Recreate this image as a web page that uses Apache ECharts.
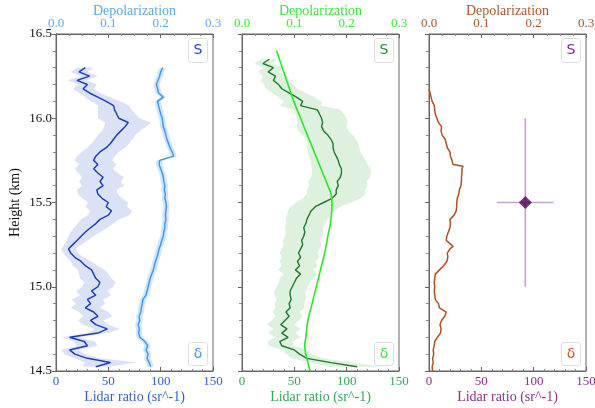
<!DOCTYPE html>
<html><head><meta charset="utf-8">
<script src="https://cdn.jsdelivr.net/npm/echarts@6/dist/echarts.min.js"></script>
<style>html,body{margin:0;padding:0;background:#fff}#c{width:595px;height:408px}</style>
</head><body><div id="c"></div>
<script>
// ---------- DATA ----------
const xTicksLR = [0, 50, 100, 150];
const xTicksDep = [0.0, 0.1, 0.2, 0.3];
const yTicks = [14.5, 15.0, 15.5, 16.0, 16.5];

// Panel 1 (heights in km)
const heights1 = [14.525,14.55,14.575,14.6,14.625,14.65,14.675,14.7,14.725,14.75,14.775,14.8,14.825,14.85,14.875,14.9,14.925,14.95,14.975,15.0,15.025,15.05,15.075,15.1,15.125,15.15,15.175,15.2,15.225,15.25,15.275,15.3,15.325,15.35,15.375,15.4,15.425,15.45,15.475,15.5,15.525,15.55,15.575,15.6,15.625,15.65,15.675,15.7,15.725,15.75,15.775,15.8,15.825,15.85,15.875,15.9,15.925,15.95,15.975,16.0,16.025,16.05,16.075,16.1,16.125,16.15,16.175,16.2,16.225,16.25,16.275,16.3];
const lidarRatio1 = [38,52,30,18,13,30,27,13,40,49, 38,33,40,36,28,33,30,38,34,40, 42,38,36,34,28,24,18,14,12,16, 20,24,28,33,38,42,50,53,48,50, 44,40,39,45,42,45,40,36,40,36, 38,42,48,52,55,58,62,66,69,60, 58,56,55,48,40,32,26,30,20,32, 22,28];
const lidarRatio1Err = [12,25,12,10,8,10,10,8,10,12, 12,12,14,14,14,14,15,15,15,15, 15,15,14,13,12,10,8,7,7,8, 10,12,14,16,17,18,20,20,20,19, 19,19,19,20,20,20,19,18,18,18, 18,18,18,18,18,18,18,20,22,20, 18,16,15,14,12,10,10,9,9,8, 8,8];
const depol1 = [0.181,0.178,0.174,0.176,0.172,0.175,0.170,0.160,0.158,0.159, 0.157,0.160,0.159,0.162,0.163,0.165,0.166,0.172,0.174,0.176, 0.178,0.180,0.183,0.186,0.188,0.190,0.193,0.195,0.197,0.200, 0.202,0.205,0.206,0.208,0.208,0.210,0.209,0.210,0.211,0.210, 0.208,0.209,0.207,0.208,0.206,0.205,0.203,0.200,0.197,0.198, 0.225,0.222,0.218,0.215,0.212,0.210,0.208,0.205,0.204,0.203, 0.200,0.198,0.196,0.194,0.205,0.196,0.194,0.192,0.195,0.198, 0.200,0.204];
const depol1Err = 0.006;

// Panel 2
const heights2 = [14.525,14.55,14.575,14.6,14.625,14.65,14.675,14.7,14.725,14.75,14.775,14.8,14.825,14.85,14.875,14.9,14.925,14.95,14.975,15.0,15.025,15.05,15.075,15.1,15.125,15.15,15.175,15.2,15.225,15.25,15.275,15.3,15.325,15.35,15.375,15.4,15.425,15.45,15.475,15.5,15.525,15.55,15.575,15.6,15.625,15.65,15.675,15.7,15.725,15.75,15.775,15.8,15.825,15.85,15.875,15.9,15.925,15.95,15.975,16.0,16.025,16.05,16.075,16.1,16.125,16.15,16.175,16.2,16.225,16.25,16.275,16.3,16.325,16.35];
const lidarRatio2 = [110,85,62,55,50,38,36,44,38,43, 37,41,45,42,46,45,47,46,46,48, 50,52,56,51,55,53,56,54,56,58, 57,59,60,59,61,62,64,66,70,78, 86,90,90,92,91,94,95,95,93,92, 90,88,87,87,85,82,78,76,77,76, 74,72,56,58,52,45,38,35,30,32, 25,30,20,26];
const lidarRatio2Err = [25,20,15,12,12,12,12,12,13,13, 13,13,13,13,14,14,14,15,15,15, 15,16,16,17,17,17,18,18,18,18, 18,18,18,18,19,20,21,22,24,26, 28,28,28,28,28,28,28,28,27,26, 26,25,25,24,24,24,24,24,24,24, 23,22,20,18,17,16,15,14,12,12, 10,10,8,8];
const fitHeights2 = [14.5,14.55,14.6,14.65,14.7,14.8,14.9,15.0,15.1,15.2,15.3,15.4,15.5,15.55,15.6,15.7,15.8,15.9,16.0,16.1,16.2,16.3,16.4];
const fitLidarRatio2 = [65,63,61,60,61,63,67,71,75,79,82,85,86,85,82,75.5,69,62.5,56,49.5,44,38.5,33];

// Panel 3
const heights3 = [14.5,14.525,14.55,14.575,14.6,14.625,14.65,14.675,14.7,14.725,14.75,14.775,14.8,14.825,14.85,14.875,14.9,14.925,14.95,14.975,15.0,15.025,15.05,15.075,15.1,15.125,15.15,15.175,15.2,15.225,15.24,15.25,15.275,15.3,15.325,15.35,15.375,15.4,15.425,15.45,15.475,15.5,15.525,15.55,15.575,15.6,15.625,15.65,15.675,15.7,15.715,15.725,15.75,15.775,15.8,15.825,15.85,15.875,15.9,15.925,15.95,15.975,16.0,16.025,16.05,16.075,16.1,16.125,16.15,16.175];
const depol3 = [0.007,0.006,0.008,0.007,0.009,0.008,0.010,0.011,0.016,0.022, 0.023,0.021,0.024,0.030,0.033,0.020,0.018,0.012,0.011,0.010, 0.011,0.010,0.011,0.012,0.020,0.028,0.034,0.036,0.035,0.040, 0.046, 0.044,0.033,0.034,0.037,0.040,0.041,0.040,0.048,0.052,0.053, 0.053,0.054,0.057,0.058,0.061,0.062,0.062,0.063,0.063, 0.065, 0.046,0.044,0.041,0.040,0.035,0.033,0.031,0.025,0.023,0.024, 0.018,0.015,0.012,0.011,0.010,0.006,0.004,0.002,0.000];
const meanLidarRatio3 = [92];
const meanLidarRatio3Err = [27];
const meanHeight3 = [15.5];
const meanHeight3Err = [0.5];

// ---------- STYLE ----------
const SERIF = 'Liberation Serif';
const panels = [
  {left:56, topColor:'#55aaff', botColor:'#2f5fe0', sColor:'#2244cc', dColor:'#4499ff'},
  {left:242, topColor:'#33ee33', botColor:'#33aa55', sColor:'#2a8a3a', dColor:'#33ee33'},
  {left:429, topColor:'#b0562c', botColor:'#8e2f8e', sColor:'#7a2a8a', dColor:'#b8602c'}
];
const W = 157, TOP = 34, H = 337;
const axisLineCol = '#666';

const grid = [], xAxis = [], yAxis = [], graphic = [];
panels.forEach((p, i) => {
  grid.push({left:p.left, top:TOP, width:W, height:H, show:true, borderColor:axisLineCol, borderWidth:1,
    backgroundColor:'transparent', containLabel:false, outerBoundsMode:'none'});
  xAxis.push({gridIndex:i, type:'value', position:'bottom', min:xTicksLR[0], max:xTicksLR[xTicksLR.length-1], interval:50,
    axisLine:{show:true, onZero:false, lineStyle:{color:axisLineCol}},
    axisTick:{show:true, inside:true, length:4, lineStyle:{color:axisLineCol}},
    minorTick:{show:true, splitNumber:5, length:2, lineStyle:{color:'#888'}},
    splitLine:{show:false},
    axisLabel:{color:p.botColor, fontFamily:SERIF, fontSize:13, margin:4},
    name:'Lidar ratio (sr^-1)', nameLocation:'middle', nameGap:19, nameMoveOverlap:false,
    nameTextStyle:{color:p.botColor, fontFamily:SERIF, fontSize:14}});
  xAxis.push({gridIndex:i, type:'value', position:'top', min:xTicksDep[0], max:xTicksDep[xTicksDep.length-1], interval:0.1,
    axisLine:{show:true, onZero:false, lineStyle:{color:axisLineCol}},
    axisTick:{show:true, inside:true, length:4, lineStyle:{color:axisLineCol}},
    minorTick:{show:true, splitNumber:4, length:2, lineStyle:{color:'#888'}},
    splitLine:{show:false},
    axisLabel:{color:p.topColor, fontFamily:SERIF, fontSize:13, margin:4, formatter:v=>v.toFixed(1)},
    name:'Depolarization', nameLocation:'middle', nameGap:16, nameMoveOverlap:false,
    nameTextStyle:{color:p.topColor, fontFamily:SERIF, fontSize:14}});
  yAxis.push({gridIndex:i, type:'value', min:yTicks[0], max:yTicks[yTicks.length-1], interval:0.5,
    axisLine:{show:true, onZero:false, lineStyle:{color:axisLineCol}},
    axisTick:{show:true, inside:false, length:4, lineStyle:{color:axisLineCol}},
    minorTick:{show:true, splitNumber:5, length:3, lineStyle:{color:'#888'}},
    splitLine:{show:false},
    axisLabel:{show:i===0, color:'#111', fontFamily:SERIF, fontSize:13, margin:4, formatter:v=>v.toFixed(1)},
    name: i===0 ? 'Height (km)' : '', nameLocation:'middle', nameGap:34, nameMoveOverlap:false,
    nameTextStyle:{color:'#111', fontFamily:SERIF, fontSize:14}});
  const bx = p.left + W - 25;
  graphic.push({type:'group', left:bx, top:38, children:[
    {type:'rect', shape:{x:0,y:0,width:19,height:24,r:3}, style:{fill:'#fff', stroke:'#dddddd', lineWidth:1}},
    {type:'text', style:{x:9.5, y:12, text:'S', fill:p.sColor, font:'14px "DejaVu Sans"', textAlign:'center', textVerticalAlign:'middle'}}
  ]});
  graphic.push({type:'group', left:bx, top:342, children:[
    {type:'rect', shape:{x:0,y:0,width:19,height:23,r:3}, style:{fill:'#fff', stroke:'#dddddd', lineWidth:1}},
    {type:'text', style:{x:9.5, y:11.5, text:'δ', fill:p.dColor, font:'14px "DejaVu Sans"', textAlign:'center', textVerticalAlign:'middle'}}
  ]});
});

function pairs(xs, hs){ return hs.map((h,i)=>[xs[i], h]); }
function band(xi, yi, xs, hs, err, color){
  return {type:'custom', xAxisIndex:xi, yAxisIndex:yi, silent:true, z:1,
    data:[[xs[0], hs[0]]],
    renderItem:(params, api)=>{
      const pts=[];
      for(let i=0;i<hs.length;i++){ const e = Array.isArray(err)?err[i]:err; pts.push(api.coord([xs[i]-e, hs[i]])); }
      for(let i=hs.length-1;i>=0;i--){ const e = Array.isArray(err)?err[i]:err; pts.push(api.coord([xs[i]+e, hs[i]])); }
      return {type:'polygon', shape:{points:pts}, style:{fill:color}};
    }};
}
function line(xi, yi, data, color, width, smooth){
  return {type:'line', xAxisIndex:xi, yAxisIndex:yi, data:data, showSymbol:false, symbol:'none', smooth:!!smooth,
    lineStyle:{color:color, width:width}, z:3, animation:false};
}

const series = [
  band(0,0, lidarRatio1, heights1, lidarRatio1Err, 'rgba(196,206,240,0.6)'),
  band(1,0, depol1, heights1, depol1Err, 'rgba(170,210,255,0.55)'),
  line(0,0, pairs(lidarRatio1, heights1), '#1b3fc0', 1.5),
  line(1,0, pairs(depol1, heights1), '#3d92f5', 1.4),

  band(2,1, lidarRatio2, heights2, lidarRatio2Err, 'rgba(200,230,200,0.6)'),
  line(2,1, pairs(lidarRatio2, heights2), '#1e7b2e', 1.4),
  line(2,1, pairs(fitLidarRatio2, fitHeights2), '#22ee22', 1.6, true),

  line(5,2, pairs(depol3, heights3), '#b5501e', 1.5),
  line(4,2, [[meanLidarRatio3[0]-meanLidarRatio3Err[0], meanHeight3[0]],[meanLidarRatio3[0]+meanLidarRatio3Err[0], meanHeight3[0]]], '#c9a0d4', 1.6),
  line(4,2, [[meanLidarRatio3[0], meanHeight3[0]-meanHeight3Err[0]],[meanLidarRatio3[0], meanHeight3[0]+meanHeight3Err[0]]], '#c9a0d4', 1.6),
  {type:'scatter', xAxisIndex:4, yAxisIndex:2, data:[[meanLidarRatio3[0], meanHeight3[0]]], symbol:'diamond', symbolSize:13,
    itemStyle:{color:'#4d0050'}, z:5}
];

const chart = echarts.init(document.getElementById('c'), null, {renderer:'canvas'});
chart.setOption({animation:false, grid, xAxis, yAxis, series, graphic});
</script></body></html>
